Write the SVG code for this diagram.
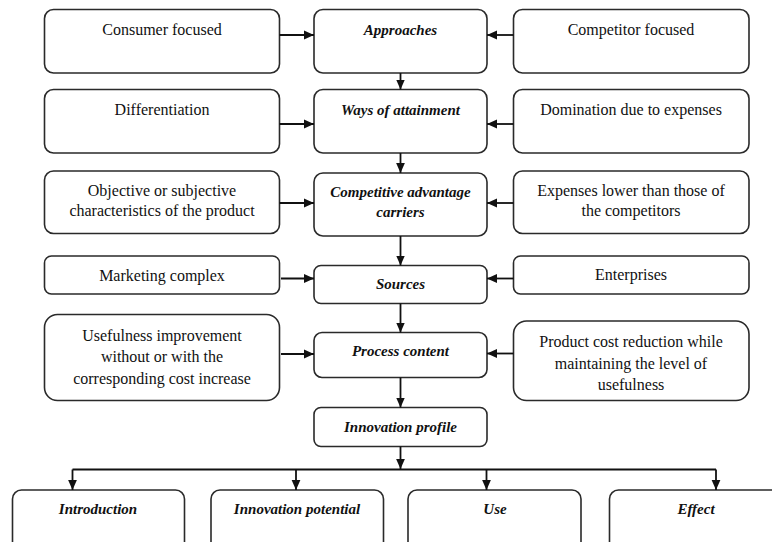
<svg xmlns="http://www.w3.org/2000/svg" width="772" height="542" viewBox="0 0 772 542">
<defs>
<style>
.box{fill:#fff;stroke:#2a2a2a;stroke-width:1.6}
.t{font-family:"Liberation Serif","Times New Roman",serif;font-size:16px;fill:#111;text-anchor:middle}
.b{font-family:"Liberation Serif","Times New Roman",serif;font-size:15px;font-weight:bold;font-style:italic;fill:#111;text-anchor:middle}
.c{fill:none;stroke:#111;stroke-width:1.8}
</style>
<marker id="ah" markerUnits="userSpaceOnUse" markerWidth="10" markerHeight="10" viewBox="0 0 10 10" refX="10" refY="5" orient="auto">
<path d="M0,0.6 L10,5 L0,9.4 Z" fill="#111"/>
</marker>
</defs>
<rect width="772" height="542" fill="#fff"/>

<g id="n-consumer"><rect class="box" x="44.5" y="9.5" width="235" height="63.5" rx="9"/><text class="t" x="162" y="34.5">Consumer focused</text></g>
<g id="n-approaches"><rect class="box" x="314" y="9.5" width="173" height="63.5" rx="9"/><text class="b" x="400.5" y="35">Approaches</text></g>
<g id="n-competitor"><rect class="box" x="513.5" y="9.5" width="235.5" height="63.5" rx="9"/><text class="t" x="631" y="34.5">Competitor focused</text></g>

<g id="n-differentiation"><rect class="box" x="44.5" y="89.5" width="235" height="63.5" rx="9"/><text class="t" x="162" y="114.5">Differentiation</text></g>
<g id="n-ways"><rect class="box" x="314" y="89.5" width="173" height="63.5" rx="9"/><text class="b" x="400.5" y="115">Ways of attainment</text></g>
<g id="n-domination"><rect class="box" x="513.5" y="89.5" width="235.5" height="63.5" rx="9"/><text class="t" x="631" y="114.5">Domination due to expenses</text></g>

<g id="n-objective"><rect class="box" x="44.5" y="171" width="235" height="62.5" rx="9"/><text class="t" x="162" y="196">Objective or subjective</text><text class="t" x="162" y="215.5">characteristics of the product</text></g>
<g id="n-carriers"><rect class="box" x="314" y="173" width="173" height="63" rx="9"/><text class="b" x="400.5" y="197">Competitive advantage</text><text class="b" x="400.5" y="216.5">carriers</text></g>
<g id="n-expenses"><rect class="box" x="513.5" y="171" width="235.5" height="62.5" rx="9"/><text class="t" x="631" y="195.5">Expenses lower than those of</text><text class="t" x="631" y="215.5">the competitors</text></g>

<g id="n-marketing"><rect class="box" x="44.5" y="256" width="235" height="38" rx="7"/><text class="t" x="162" y="280.5">Marketing complex</text></g>
<g id="n-sources"><rect class="box" x="314" y="265.5" width="173" height="38" rx="7"/><text class="b" x="400.5" y="288.5">Sources</text></g>
<g id="n-enterprises"><rect class="box" x="513.5" y="256" width="235.5" height="38" rx="7"/><text class="t" x="631" y="279.5">Enterprises</text></g>

<g id="n-usefulness"><rect class="box" x="44.5" y="314.5" width="235" height="86" rx="13"/><text class="t" x="162" y="340.5">Usefulness improvement</text><text class="t" x="162" y="362">without or with the</text><text class="t" x="162" y="384">corresponding cost increase</text></g>
<g id="n-process"><rect class="box" x="314" y="332.5" width="173" height="45" rx="8"/><text class="b" x="400.5" y="356">Process content</text></g>
<g id="n-costreduction"><rect class="box" x="513.5" y="321" width="235.5" height="79.5" rx="13"/><text class="t" x="631" y="347">Product cost reduction while</text><text class="t" x="631" y="368.5">maintaining the level of</text><text class="t" x="631" y="390">usefulness</text></g>

<g id="n-profile"><rect class="box" x="314" y="407.5" width="173" height="39" rx="7"/><text class="b" x="400.5" y="431.5">Innovation profile</text></g>

<g id="n-introduction"><rect class="box" x="12.5" y="490" width="172" height="70" rx="9"/><text class="b" x="98" y="514">Introduction</text></g>
<g id="n-potential"><rect class="box" x="211" y="490" width="172.5" height="70" rx="9"/><text class="b" x="297" y="514">Innovation potential</text></g>
<g id="n-use"><rect class="box" x="408" y="490" width="173" height="70" rx="9"/><text class="b" x="495" y="514">Use</text></g>
<g id="n-effect"><rect class="box" x="609.5" y="490" width="175" height="70" rx="9"/><text class="b" x="696" y="514">Effect</text></g>

<g id="connectors">
<path class="c" d="M279.5,35 H314" marker-end="url(#ah)"/>
<path class="c" d="M513.5,35 H487" marker-end="url(#ah)"/>
<path class="c" d="M279.5,124 H314" marker-end="url(#ah)"/>
<path class="c" d="M513.5,124 H487" marker-end="url(#ah)"/>
<path class="c" d="M279.5,203 H314" marker-end="url(#ah)"/>
<path class="c" d="M513.5,203 H487" marker-end="url(#ah)"/>
<path class="c" d="M281,278.5 H314" marker-end="url(#ah)"/>
<path class="c" d="M513.5,278.5 H487" marker-end="url(#ah)"/>
<path class="c" d="M281,354 H314" marker-end="url(#ah)"/>
<path class="c" d="M513.5,353.5 H487" marker-end="url(#ah)"/>
<path class="c" d="M400.5,73 V89.5" marker-end="url(#ah)"/>
<path class="c" d="M400.5,153 V173" marker-end="url(#ah)"/>
<path class="c" d="M400.5,236 V265.5" marker-end="url(#ah)"/>
<path class="c" d="M400.5,303.5 V332.5" marker-end="url(#ah)"/>
<path class="c" d="M400.5,377.5 V407.5" marker-end="url(#ah)"/>
<path class="c" d="M400.5,446.5 V469" marker-end="url(#ah)"/>
<path class="c" d="M72.5,469.5 H716"/>
<path class="c" d="M72.5,469.5 V490" marker-end="url(#ah)"/>
<path class="c" d="M296,469.5 V490" marker-end="url(#ah)"/>
<path class="c" d="M486.5,469.5 V490" marker-end="url(#ah)"/>
<path class="c" d="M716,469.5 V490" marker-end="url(#ah)"/>
</g>
</svg>
